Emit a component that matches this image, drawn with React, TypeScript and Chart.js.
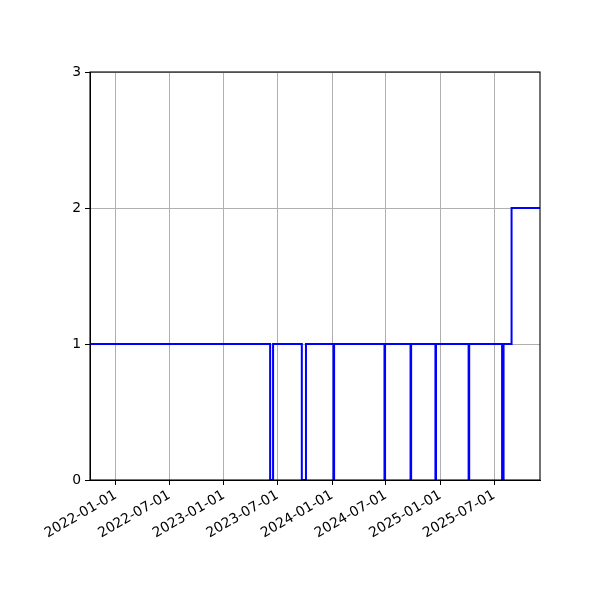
import React, { useEffect, useRef } from "react";
import { Chart, registerables } from "chart.js";

Chart.register(...registerables);

// dates where the value changes (step holds until the next date)
const stepDates = [
  "2021-10-06",
  "2023-06-06",
  "2023-06-16",
  "2023-09-21",
  "2023-10-05",
  "2024-01-06",
  "2024-01-08",
  "2024-06-26",
  "2024-06-28",
  "2024-09-22",
  "2024-09-24",
  "2024-12-15",
  "2024-12-17",
  "2025-04-06",
  "2025-04-08",
  "2025-07-28",
  "2025-08-02",
  "2025-08-29",
  "2025-12-03",
];
const stepValues = [1, 0, 1, 0, 1, 0, 1, 0, 1, 0, 1, 0, 1, 0, 1, 0, 1, 2, 2];

const tickDates = [
  "2022-01-01",
  "2022-07-01",
  "2023-01-01",
  "2023-07-01",
  "2024-01-01",
  "2024-07-01",
  "2025-01-01",
  "2025-07-01",
];

const xMin = "2021-10-06";
const xMax = "2025-12-03";

const FONT = { family: "DejaVu Sans", size: 13.9 };

const boxPlugin = {
  id: "box",
  afterDraw(chart: any) {
    const { ctx, chartArea } = chart;
    ctx.save();
    ctx.strokeStyle = "#000";
    ctx.lineWidth = 1.1;
    ctx.strokeRect(
      chartArea.left,
      chartArea.top,
      chartArea.right - chartArea.left,
      chartArea.bottom - chartArea.top
    );
    ctx.restore();
  },
};

const StepChart: React.FC = () => {
  const chartRef = useRef<HTMLCanvasElement | null>(null);

  useEffect(() => {
    if (!chartRef.current) return;
    const ctx = chartRef.current.getContext("2d");
    if (!ctx) return;

    const points = stepDates.map((d, i) => ({
      x: Date.parse(d),
      y: stepValues[i],
    }));

    const chart = new Chart(ctx, {
      type: "line",
      data: {
        datasets: [
          {
            data: points,
            borderColor: "#0000ff",
            borderWidth: 2,
            pointRadius: 0,
            stepped: "before",
            fill: false,
          },
        ],
      },
      options: {
        animation: false,
        responsive: false,
        layout: { padding: { left: 0, top: 72, right: 60, bottom: 0 } },
        plugins: {
          legend: { display: false },
          tooltip: { enabled: false },
        },
        scales: {
          x: {
            type: "linear",
            min: Date.parse(xMin),
            max: Date.parse(xMax),
            afterBuildTicks: (scale: any) => {
              scale.ticks = tickDates.map((d) => ({ value: Date.parse(d) }));
            },
            afterFit: (scale: any) => {
              scale.height = 120;
            },
            grid: {
              color: "#b0b0b0",
              lineWidth: 1,
              tickColor: "#000",
              tickLength: 5,
            },
            border: { color: "#000", width: 1 },
            ticks: {
              color: "#000",
              font: FONT,
              padding: 2,
              minRotation: 30,
              maxRotation: 30,
              autoSkip: false,
              callback: (v: any) => new Date(Number(v)).toISOString().slice(0, 10),
            },
          },
          y: {
            min: 0,
            max: 3,
            afterFit: (scale: any) => {
              scale.width = 90;
            },
            grid: {
              color: "#b0b0b0",
              lineWidth: 1,
              tickColor: "#000",
              tickLength: 5,
            },
            border: { color: "#000", width: 1 },
            ticks: {
              stepSize: 1,
              color: "#000",
              font: FONT,
              padding: 4,
            },
          },
        },
      },
      plugins: [boxPlugin],
    });

    return () => {
      chart.destroy();
    };
  }, []);

  return (
    <div
      style={{
        position: "absolute",
        left: 0,
        top: 0,
        width: "600px",
        height: "600px",
        background: "#fff",
      }}
    >
      <canvas ref={chartRef} width={600} height={600}></canvas>
    </div>
  );
};

export default function App() {
  return <StepChart />;
}
